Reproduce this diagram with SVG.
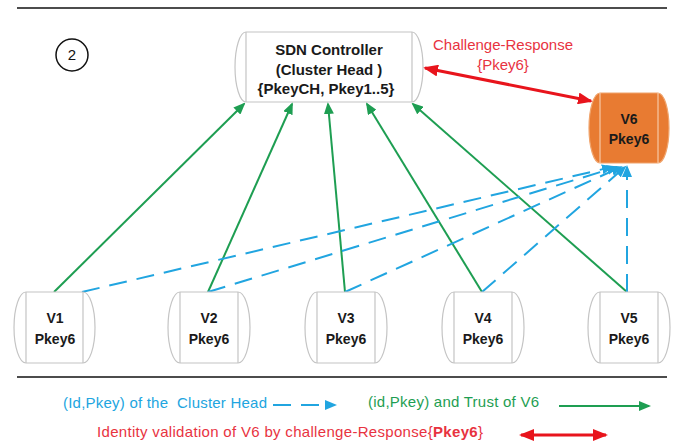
<svg xmlns="http://www.w3.org/2000/svg" width="677" height="448" viewBox="0 0 677 448">
<style>
.node{fill:#fff;stroke:#c4c4c4;stroke-width:1.2}
.inner{stroke:#c4c4c4;stroke-width:1.2;fill:none}
.v6{fill:#e87b32;stroke:#f0a46c;stroke-width:1.2}
.v6inner{stroke:#f6c9a6;stroke-width:1.2;fill:none}
.lbl{font-family:"Liberation Sans",Arial,sans-serif;font-weight:bold;font-size:14px;fill:#1a1a1a;text-anchor:middle}
.sdn{font-size:15px}
.g{stroke:#1e9e52;stroke-width:2;fill:none}
.b{stroke:#21a5e0;stroke-width:2;fill:none;stroke-dasharray:18 10}
.r{stroke:#e8141c;stroke-width:3;fill:none}
.t{font-family:"Liberation Sans",Arial,sans-serif;font-size:15px}
.rule{stroke:#111;stroke-width:1.6}
</style>
<defs>
<marker id="ag" markerUnits="userSpaceOnUse" markerWidth="12" markerHeight="10" viewBox="0 0 12 10" refX="10" refY="5" orient="auto"><path d="M0,0 L12,5 L0,10 z" fill="#1e9e52"/></marker>
<marker id="ab" markerUnits="userSpaceOnUse" markerWidth="12" markerHeight="10" viewBox="0 0 12 10" refX="10" refY="5" orient="auto"><path d="M0,0 L12,5 L0,10 z" fill="#21a5e0"/></marker>
<marker id="ar" markerUnits="userSpaceOnUse" markerWidth="15" markerHeight="12" viewBox="0 0 15 12" refX="13" refY="6" orient="auto-start-reverse"><path d="M0,0 L15,6 L0,12 z" fill="#e8141c"/></marker>
</defs>

<line class="rule" x1="17" y1="8" x2="667" y2="8"/>
<line class="rule" x1="17" y1="377" x2="667" y2="377"/>

<g id="step-label">
<circle cx="72" cy="55" r="16" fill="none" stroke="#111" stroke-width="1.5"/>
<text x="72" y="60" class="t" text-anchor="middle" fill="#111" style="font-size:15px">2</text>
</g>

<g id="connectors">
<line class="g" x1="54" y1="292" x2="244" y2="104" marker-end="url(#ag)"/>
<line class="g" x1="208" y1="292" x2="292" y2="104" marker-end="url(#ag)"/>
<line class="g" x1="345" y1="292" x2="328" y2="104" marker-end="url(#ag)"/>
<line class="g" x1="482" y1="292" x2="367" y2="104" marker-end="url(#ag)"/>
<line class="g" x1="627" y1="292" x2="413" y2="104" marker-end="url(#ag)"/>
<line class="b" x1="82" y1="292" x2="612" y2="167" marker-end="url(#ab)"/>
<line class="b" x1="208" y1="292" x2="617" y2="167" marker-end="url(#ab)"/>
<line class="b" x1="345" y1="292" x2="621" y2="167" marker-end="url(#ab)"/>
<line class="b" x1="482" y1="292" x2="625" y2="167" marker-end="url(#ab)"/>
<line class="b" x1="627" y1="292" x2="627" y2="167" marker-end="url(#ab)"/>
<line class="r" x1="425" y1="68" x2="591" y2="101" marker-start="url(#ar)" marker-end="url(#ar)"/>
<text class="t" x="503" y="50" text-anchor="middle" fill="#e8333f">Challenge-Response</text>
<text class="t" x="503" y="70" text-anchor="middle" fill="#e8333f">{Pkey6}</text>
</g>

<g id="sdn-controller">
<path class="node" d="M246,32 H412 A11,35 0 0 1 412,102 H246 A11,35 0 0 1 246,32 Z"/>
<line class="inner" x1="246" y1="32" x2="246" y2="102"/>
<line class="inner" x1="412" y1="32" x2="412" y2="102"/>
<text class="lbl sdn" x="329" y="55">SDN Controller</text>
<text class="lbl sdn" x="329" y="75">(Cluster Head )</text>
<text class="lbl sdn" x="326" y="94">{PkeyCH, Pkey1..5}</text>
</g>

<g id="v6">
<path class="v6" d="M600,93 H658 A11,35 0 0 1 658,163 H600 A11,35 0 0 1 600,93 Z"/>
<line class="v6inner" x1="600" y1="93" x2="600" y2="163"/>
<line class="v6inner" x1="658" y1="93" x2="658" y2="163"/>
<text class="lbl" x="629" y="124">V6</text>
<text class="lbl" x="629" y="144">Pkey6</text>
</g>

<g id="v1">
<path class="node" d="M26,292 H83 A12,35.5 0 0 1 83,363 H26 A12,35.5 0 0 1 26,292 Z"/>
<line class="inner" x1="26" y1="292" x2="26" y2="363"/>
<line class="inner" x1="83" y1="292" x2="83" y2="363"/>
<text class="lbl" x="55" y="323">V1</text>
<text class="lbl" x="55" y="344">Pkey6</text>
</g>

<g id="v2">
<path class="node" d="M180,292 H238 A12,35.5 0 0 1 238,363 H180 A12,35.5 0 0 1 180,292 Z"/>
<line class="inner" x1="180" y1="292" x2="180" y2="363"/>
<line class="inner" x1="238" y1="292" x2="238" y2="363"/>
<text class="lbl" x="209" y="323">V2</text>
<text class="lbl" x="209" y="344">Pkey6</text>
</g>

<g id="v3">
<path class="node" d="M317,292 H375 A12,35.5 0 0 1 375,363 H317 A12,35.5 0 0 1 317,292 Z"/>
<line class="inner" x1="317" y1="292" x2="317" y2="363"/>
<line class="inner" x1="375" y1="292" x2="375" y2="363"/>
<text class="lbl" x="346" y="323">V3</text>
<text class="lbl" x="346" y="344">Pkey6</text>
</g>

<g id="v4">
<path class="node" d="M454,292 H512 A12,35.5 0 0 1 512,363 H454 A12,35.5 0 0 1 454,292 Z"/>
<line class="inner" x1="454" y1="292" x2="454" y2="363"/>
<line class="inner" x1="512" y1="292" x2="512" y2="363"/>
<text class="lbl" x="483" y="323">V4</text>
<text class="lbl" x="483" y="344">Pkey6</text>
</g>

<g id="v5">
<path class="node" d="M600,292 H658 A12,35.5 0 0 1 658,363 H600 A12,35.5 0 0 1 600,292 Z"/>
<line class="inner" x1="600" y1="292" x2="600" y2="363"/>
<line class="inner" x1="658" y1="292" x2="658" y2="363"/>
<text class="lbl" x="629" y="323">V5</text>
<text class="lbl" x="629" y="344">Pkey6</text>
</g>

<g id="legend">
<text class="t" x="63" y="408" fill="#21a5e0" textLength="204" lengthAdjust="spacing">(Id,Pkey) of the&#160; Cluster Head</text>
<line class="b" x1="273" y1="405" x2="320" y2="405"/>
<path d="M325,400 L337,405 L325,410 z" fill="#21a5e0"/>
<text class="t" x="368" y="407" fill="#1e9e52" textLength="171" lengthAdjust="spacing">(id,Pkey) and Trust of V6</text>
<line class="g" x1="559" y1="406" x2="649" y2="406" marker-end="url(#ag)"/>
<text class="t" x="97" y="437" fill="#e8333f" textLength="386" lengthAdjust="spacing">Identity validation of V6 by challenge-Response{<tspan font-weight="bold">Pkey6</tspan>}</text>
<line class="r" x1="521" y1="435" x2="606" y2="435" marker-start="url(#ar)" marker-end="url(#ar)"/>
</g>
</svg>
